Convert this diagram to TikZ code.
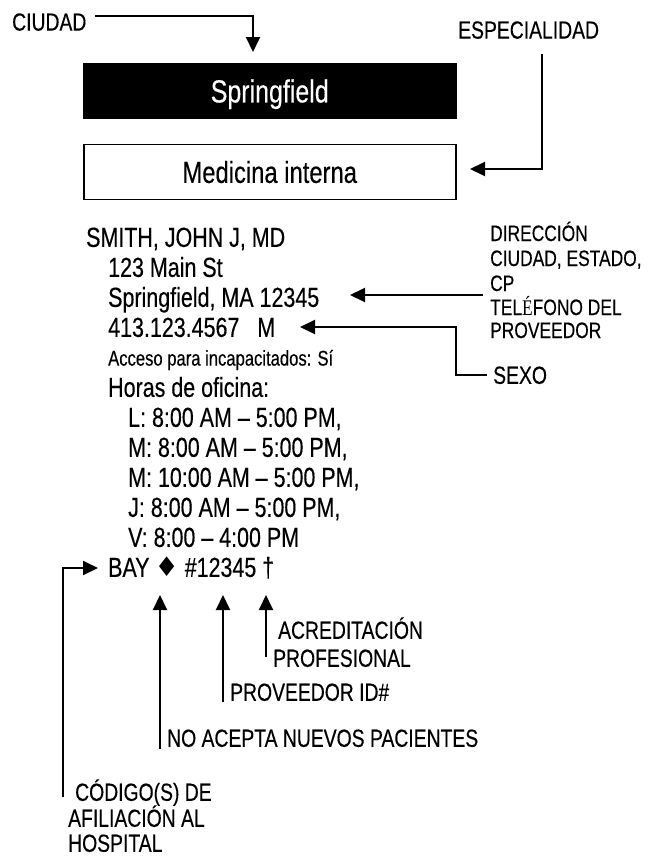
\documentclass[tikz,border=0pt]{standalone}
\usepackage{fontspec}
\setmainfont{Liberation Sans}[FakeStretch=0.78,FakeBold=0.3]
\newfontfamily\serifE{Liberation Serif}[FakeStretch=0.78]
\newfontfamily\symfnt{DejaVu Sans}
\usetikzlibrary{arrows.meta}
\tikzset{
  conn/.style={line width=2pt},
  arr/.style={conn,-{Triangle[length=15pt,width=14pt]}},
  maintext/.style={inner sep=0pt, anchor=base west, font=\fontsize{27.5}{30}\selectfont},
  smalltext/.style={inner sep=0pt, anchor=base west, font=\fontsize{21.3}{24}\selectfont},
  lbl/.style={inner sep=0pt, anchor=base west, font=\fontsize{24.8}{26}\selectfont},
  lblsm/.style={inner sep=0pt, anchor=base west, font=\fontsize{22.3}{24}\selectfont},
  cityboxst/.style={fill=black, text=white, minimum width=373.5pt, minimum height=56pt,
    inner sep=0pt, text height=22.9pt, text depth=0pt, font=\fontsize{32}{36}\selectfont},
  specboxst/.style={draw=black, line width=1.6pt, fill=white, minimum width=372pt, minimum height=55pt,
    inner sep=0pt, text height=21.8pt, text depth=0pt, font=\fontsize{30.5}{34}\selectfont},
}
\begin{document}
\begin{tikzpicture}[x=1pt,y=-1pt]
\fill[white] (0,0) rectangle (661,857);
\useasboundingbox (0,0) rectangle (661,857);

% top labels and boxes
\node[lbl] (ciudad) at (12,30.6) {CIUDAD};
\node[lbl] (esp) at (458,38.6) {ESPECIALIDAD};
\node[cityboxst] (city) at (269.75,91) {Springfield};
\node[specboxst] (spec) at (269.75,172) {Medicina interna};

% listing
\node[maintext] (name) at (86,246.85) {SMITH, JOHN J, MD};
\node[maintext] (street) at (108,276.85) {123 Main St};
\node[maintext] (town) at (108,306.85) {Springfield, MA 12345};
\node[maintext] (phone) at (108,336.85) {413.123.4567\hspace{18pt}M};
\node[smalltext] (access) at (108,365.6) {Acceso para incapacitados: Sí};
\node[maintext] (hours) at (108,396.85) {Horas de oficina:};
\node[maintext] (h1) at (128,426.85) {L: 8:00 AM – 5:00 PM,};
\node[maintext] (h2) at (128,456.85) {M: 8:00 AM – 5:00 PM,};
\node[maintext] (h3) at (128,486.85) {M: 10:00 AM – 5:00 PM,};
\node[maintext] (h4) at (128,516.85) {J: 8:00 AM – 5:00 PM,};
\node[maintext] (h5) at (128,546.85) {V: 8:00 – 4:00 PM};
\node[maintext] (bay) at (108,576.85) {BAY\hspace{5pt}{\symfnt\fontsize{27}{28}\selectfont ♦}\hspace{6pt}\#12345 †};

% right labels
\node[lblsm] (dir1) at (490,241) {DIRECCIÓN};
\node[lblsm] (dir2) at (490,266) {CIUDAD, ESTADO,};
\node[lblsm] (dir3) at (490,291) {CP};
\node[lblsm] (dir4) at (490,315) {TEL{\serifE É}FONO DEL};
\node[lblsm] (dir5) at (490,338) {PROVEEDOR};
\node[lbl] (sexo) at (493,383.8) {SEXO};

% bottom labels
\node[lbl] (acr1) at (278,638.8) {ACREDITACIÓN};
\node[lbl] (acr2) at (273,666.8) {PROFESIONAL};
\node[lbl] (pid) at (230,700.8) {PROVEEDOR ID\#};
\node[lbl] (noac) at (167,746.8) {NO ACEPTA NUEVOS PACIENTES};
\node[lbl] (cod1) at (75,800.8) {CÓDIGO(S) DE};
\node[lbl] (cod2) at (68,826.8) {AFILIACIÓN AL};
\node[lbl] (cod3) at (68,851.8) {HOSPITAL};

% connector end points
\coordinate (ciudS) at (95,16);   \coordinate (ciudT) at (253,52);
\coordinate (espS) at (542,54);   \coordinate (espT) at (470,169);
\coordinate (dirS) at (483,295);  \coordinate (dirT) at (350,295);
\coordinate (sexS) at (487,375);  \coordinate (sexC) at (456,327); \coordinate (sexT) at (300,327);
\coordinate (bayS) at (63,797);   \coordinate (bayT) at (98,568);
\coordinate (diaS) at (160,749);  \coordinate (diaT) at (160,595);
\coordinate (idS) at (223,702);   \coordinate (idT) at (223,595);
\coordinate (dagS) at (266,657);  \coordinate (dagT) at (266,595);

% connectors
\draw[arr] (ciudS) -| (ciudT);
\draw[arr] (espS) |- (espT);
\draw[arr] (dirS) -- (dirT);
\draw[arr] (sexS) -| (sexC) -- (sexT);
\draw[arr] (bayS) |- (bayT);
\draw[arr] (diaS) -- (diaT);
\draw[arr] (idS) -- (idT);
\draw[arr] (dagS) -- (dagT);
\end{tikzpicture}
\end{document}
